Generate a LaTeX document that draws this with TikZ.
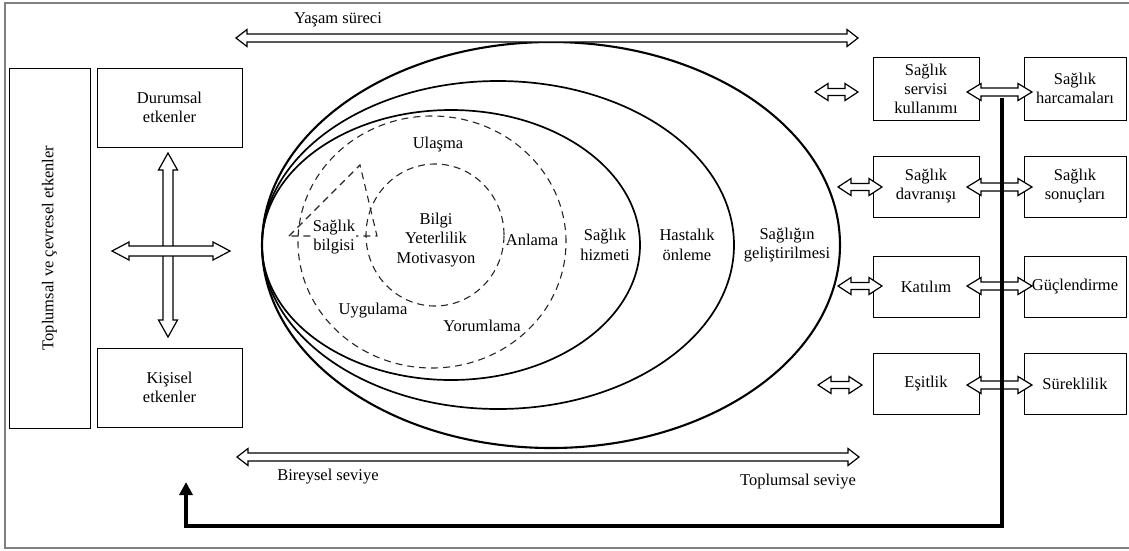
\documentclass[tikz,border=0pt]{standalone}
\usepackage{fontspec}
\setmainfont{Liberation Serif}
\newfontfamily\tnrfont{Liberation Serif}
\usetikzlibrary{arrows.meta}
\newcommand{\mkharrow}[6]{% x1 x2 y headlen headhalf shafthalf
  \draw[arrowline] (#1,#3) -- ({#1+#4},{#3-#5}) -- ({#1+#4},{#3-#6}) -- ({#2-#4},{#3-#6}) -- ({#2-#4},{#3-#5}) -- (#2,#3) -- ({#2-#4},{#3+#5}) -- ({#2-#4},{#3+#6}) -- ({#1+#4},{#3+#6}) -- ({#1+#4},{#3+#5}) -- cycle;}
\newcommand{\mkvarrow}[6]{% y1 y2 x headlen headhalf shafthalf
  \draw[arrowline] (#3,#1) -- ({#3-#5},{#1+#4}) -- ({#3-#6},{#1+#4}) -- ({#3-#6},{#2-#4}) -- ({#3-#5},{#2-#4}) -- (#3,#2) -- ({#3+#5},{#2-#4}) -- ({#3+#6},{#2-#4}) -- ({#3+#6},{#1+#4}) -- ({#3+#5},{#1+#4}) -- cycle;}
\begin{document}
\begin{tikzpicture}[x=1pt,y=-1pt,
  lbl/.style={font=\tnrfont\fontsize{16.5}{19.5}\selectfont, align=center, inner sep=1pt},
  box/.style={draw, line width=0.8pt, font=\tnrfont\fontsize{16.5}{19}\selectfont, align=center, inner sep=2pt},
  ell/.style={line width=1.7pt},
  dsh/.style={line width=1.1pt, dash pattern=on 7pt off 5pt, black!85},
  arrowline/.style={draw, fill=white, line width=1.2pt, line join=miter}]
\useasboundingbox (0,0) rectangle (1129,550);
\draw[gray, line width=1.5pt] (1129,3) -- (5,3) -- (5,548) -- (1129,548);

% ellipses
\draw[ell, line width=2.1pt] (551,245) ellipse [x radius=289pt, y radius=203pt];
\draw[ell] (498,245) ellipse [x radius=236pt, y radius=164pt];
\draw[ell] (451,245) ellipse [x radius=189pt, y radius=135pt];
\draw[dsh] (432,242) ellipse [x radius=134pt, y radius=126pt];
\draw[dsh] (435,235) ellipse [x radius=69pt, y radius=71pt];
\draw[dsh] (289,236) -- (360,165) -- (377,236) -- cycle;

% texts inside ellipses
\node[lbl] (ulasma) at (438,145) {Ulaşma};
\node[lbl] (anlama) at (532,240) {Anlama};
\node[lbl] (yorum) at (482,326) {Yorumlama};
\node[lbl] (uygu) at (373,311) {Uygulama};
\node[lbl, fill=white, inner sep=0.5pt] (sbilgi) at (334,237) {Sağlık\\bilgisi};
\node[lbl] (core) at (436,240) {Bilgi\\Yeterlilik\\Motivasyon};
\node[lbl] (hizmet) at (605,245) {Sağlık\\hizmeti};
\node[lbl] (onleme) at (687,245) {Hastalık\\önleme};
\node[lbl] (gelis) at (787,245) {Sağlığın\\geliştirilmesi};

% level arrows
\mkharrow{236}{858}{38}{11}{8.5}{4}
\node[lbl] (yasam) at (338,20) {Yaşam süreci};
\mkharrow{237}{859}{457}{11}{8.5}{4}
\node[lbl] (bireysel) at (328,477) {Bireysel seviye};
\node[lbl] (toplumsal) at (798,482) {Toplumsal seviye};

% left side
\node[box, rotate=90, minimum width=360pt, minimum height=81pt] (tall) at (49.5,248) {Toplumsal ve çevresel etkenler};
\node[box, minimum width=145pt, minimum height=79pt] (durum) at (169.5,107.5) {Durumsal\\etkenler};
\node[box, minimum width=145pt, minimum height=79pt] (kisi) at (169.5,387.5) {Kişisel\\etkenler};
\mkvarrow{153}{337}{168}{17}{9.5}{5}
\mkharrow{112}{230}{251}{17}{9}{5}

% right side boxes
\node[box, minimum width=106pt, minimum height=63pt] (svk) at (926,88.5) {Sağlık\\servisi\\kullanımı};
\node[box, minimum width=102pt, minimum height=63pt] (sh) at (1075,88.5) {Sağlık\\harcamaları};
\node[box, minimum width=106pt, minimum height=61pt] (sd) at (926,186.5) {Sağlık\\davranışı};
\node[box, minimum width=102pt, minimum height=61pt] (ss) at (1075,186.5) {Sağlık\\sonuçları};
\node[box, minimum width=106pt, minimum height=61pt] (kat) at (926,286.5) {Katılım};
\node[box, minimum width=102pt, minimum height=61pt] (guc) at (1075,286.5) {Güçlendirme};
\node[box, minimum width=106pt, minimum height=61pt] (esit) at (926,383.5) {Eşitlik};
\node[box, minimum width=102pt, minimum height=61pt] (surek) at (1075,383.5) {Süreklilik};

% small arrows left of boxes
\mkharrow{815}{858}{92}{13}{8.5}{3.5}
\mkharrow{838}{882}{187}{13}{8.5}{3.5}
\mkharrow{838}{882}{286}{13}{8.5}{3.5}
\mkharrow{818}{862}{385}{13}{8.5}{3.5}

% arrows between box columns
\mkharrow{967}{1032}{92}{14}{8.5}{4}
\mkharrow{967}{1032}{187}{14}{8.5}{4}
\mkharrow{967}{1032}{286}{14}{8.5}{4}
\mkharrow{967}{1032}{385}{14}{8.5}{4}

% feedback line
\coordinate (fbtop) at (1002,98);
\coordinate (fbc1) at (1002,526);
\coordinate (fbc2) at (186,526);
\coordinate (fbend) at (186,482);
\draw[line width=4.5pt, line join=miter, -{Triangle[length=13pt,width=13pt]}] (fbtop) -- (fbc1) -- (fbc2) -- (fbend);
\end{tikzpicture}
\end{document}
